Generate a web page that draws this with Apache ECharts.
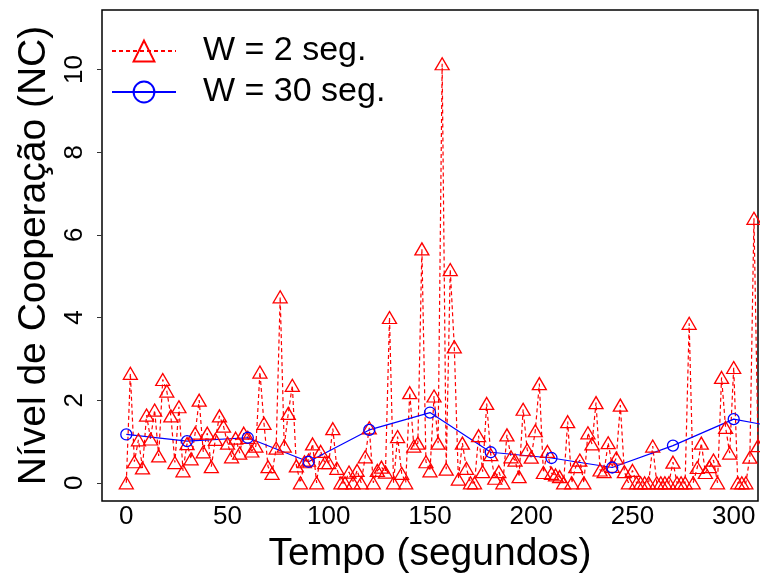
<!DOCTYPE html>
<html>
<head>
<meta charset="utf-8">
<script src="https://cdn.jsdelivr.net/npm/echarts@6/dist/echarts.min.js"></script>
<style>
  html, body { margin: 0; padding: 0; background: #fff; }
  #chart { width: 760px; height: 576px; }
</style>
</head>
<body>
<div id="chart"></div>
<script>
// janela de 2 s (um valor a cada 2 segundos, a partir de 0)
var passo2 = 2;
var nc2 = [
    0, 2.65, 0.51, 1.04, 0.36, 1.64, 1.06, 1.76, 0.65, 2.5,
    2.22, 1.62, 0.49, 1.84, 0.29, 0.95, 0.58, 1.2, 2.0, 0.75,
    1.2, 0.39, 1.05, 1.62, 1.37, 0.96, 0.63, 1.08, 0.72, 1.2,
    1.1, 0.77, 0.89, 2.68, 1.44, 0.39, 0.23, 0.84, 4.5, 0.89,
    1.68, 2.36, 0.41, 0, 0.51, 0.55, 0.94, 0, 0.76, 0.49,
    0.49, 1.31, 0.35, 0, 0, 0.26, 0, 0.3, 0, 0.63,
    1.33, 0, 0.3, 0.38, 0.26, 4.0, 0, 1.12, 0.23, 0,
    2.18, 0.89, 0.96, 5.66, 0.51, 0.29, 2.1, 0.96, 10.14, 0.33,
    5.16, 3.29, 0.09, 0.96, 0.35, 0, 0, 1.14, 0.27, 1.92,
    0.68, 0.11, 0.27, 0, 1.16, 0.63, 0.55, 0.15, 1.78, 0.8,
    0.62, 1.26, 2.4, 0.25, 0.76, 0.23, 0.19, 0.15, 0, 1.48,
    0, 0.39, 0.55, 0, 1.21, 0.94, 1.94, 0.31, 0.27, 0.97,
    0.4, 0.6, 1.88, 0.27, 0, 0.3, 0, 0, 0, 0,
    0.89, 0, 0, 0, 0, 0.5, 0, 0, 0, 3.86,
    0, 0.37, 0.96, 0.25, 0.39, 0.55, 0, 2.55, 1.34, 0.72,
    2.79, 0, 0, 0, 0.62, 6.4, 0.9
];
// janela de 30 s
var tempo30 = [0, 30, 60, 90, 120, 150, 180, 210, 240, 270, 300, 330];
var nc30 = [1.17, 1.01, 1.09, 0.51, 1.28, 1.7, 0.74, 0.6, 0.37, 0.9, 1.54, 1.27];

var xTicks = [0, 50, 100, 150, 200, 250, 300];
var yTicks = [0, 2, 4, 6, 8, 10];
var nomes = ['W = 2 seg.', 'W = 30 seg.'];

var fonte = '"Liberation Sans", Arial, Helvetica, sans-serif';

var serie2 = nc2.map(function(v, i) { return [i * passo2, v]; });
var serie30 = tempo30.map(function(t, i) { return [t, nc30[i]]; });

var myChart = echarts.init(document.getElementById('chart'));
var option = {
    animation: false,
    textStyle: { fontFamily: fonte },
    grid: {
        left: 102,
        right: 2,
        top: 10,
        bottom: 75,
        outerBoundsMode: 'none',
        containLabel: false,
        show: true,
        borderColor: '#000',
        borderWidth: 1.5,
        backgroundColor: 'transparent'
    },
    legend: {
        left: 106,
        top: 29,
        orient: 'vertical',
        itemWidth: 64,
        itemHeight: 26,
        itemGap: 7,
        textStyle: {
            fontFamily: fonte,
            fontSize: 34,
            lineHeight: 34,
            color: '#000',
            padding: [0, 0, 0, 22]
        },
        data: nomes
    },
    xAxis: {
        type: 'value',
        min: -12,
        max: 312,
        name: 'Tempo (segundos)',
        nameLocation: 'middle',
        nameGap: 33,
        nameTextStyle: { fontFamily: fonte, fontSize: 39, color: '#000' },
        axisLine: { show: false, onZero: false },
        axisTick: { show: false },
        splitLine: { show: false },
        axisLabel: {
            customValues: xTicks,
            fontFamily: fonte,
            fontSize: 26,
            color: '#000',
            margin: 3
        }
    },
    yAxis: {
        type: 'value',
        min: -0.44,
        max: 11.44,
        name: 'Nível de Cooperação (NC)',
        nameLocation: 'middle',
        nameRotate: 90,
        nameGap: 48,
        nameTextStyle: { fontFamily: fonte, fontSize: 39, color: '#000' },
        axisLine: { show: false, onZero: false },
        splitLine: { show: false },
        axisTick: {
            show: true,
            customValues: yTicks,
            length: 5,
            lineStyle: { color: '#333', width: 1 }
        },
        axisLabel: {
            customValues: yTicks,
            rotate: 90,
            fontFamily: fonte,
            fontSize: 26,
            color: '#000',
            margin: 14
        }
    },
    series: [{
        name: nomes[0],
        type: 'line',
        data: serie2,
        symbol: 'triangle',
        symbolSize: [14, 12],
        showAllSymbol: true,
        clip: true,
        lineStyle: { color: '#ff0000', width: 1.2, type: [4, 3] },
        itemStyle: { color: 'rgba(255,255,255,0)', borderColor: '#ff0000', borderWidth: 1.3 },
        emphasis: { disabled: true }
    }, {
        name: nomes[1],
        type: 'line',
        data: serie30,
        symbol: 'circle',
        symbolSize: 11,
        showAllSymbol: true,
        clip: true,
        lineStyle: { color: '#0000ff', width: 1.2 },
        itemStyle: { color: 'rgba(255,255,255,0)', borderColor: '#0000ff', borderWidth: 1.3 },
        emphasis: { disabled: true }
    }]
};

myChart.setOption(option);

window.addEventListener('resize', function() {
    myChart.resize();
});
</script>
</body>
</html>
